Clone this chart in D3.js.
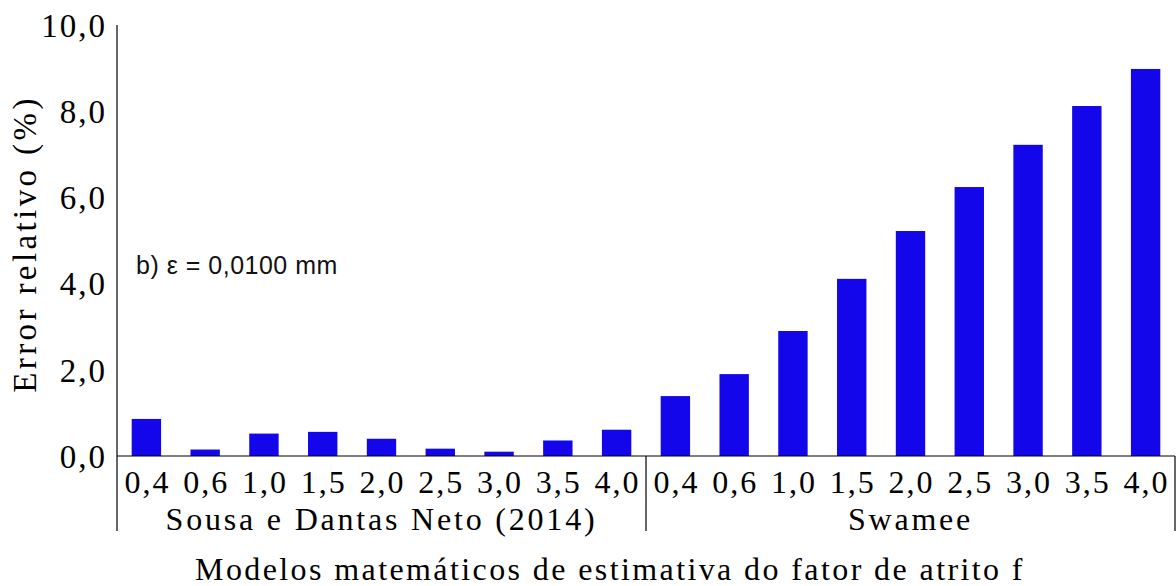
<!DOCTYPE html>
<html>
<head>
<meta charset="utf-8">
<script src="https://cdn.jsdelivr.net/npm/d3@7"></script>
<style>
  body { margin: 0; background: #fff; }
  svg { display: block; }
  .serif { font-family: "Liberation Serif", "Times New Roman", serif; fill: #000; }
</style>
</head>
<body>
<script>
// friction factor values (x categories) shared by both models
const fValues = ['0,4', '0,6', '1,0', '1,5', '2,0', '2,5', '3,0', '3,5', '4,0'];
const models = ['Sousa e Dantas Neto (2014)', 'Swamee'];
// relative error (%)
const sousaErr = [0.86, 0.15, 0.52, 0.56, 0.40, 0.17, 0.10, 0.36, 0.61];
const swameeErr = [1.39, 1.90, 2.90, 4.11, 5.22, 6.24, 7.22, 8.12, 8.98];
const yTicks = [0, 2, 4, 6, 8, 10];

const width = 1176, height = 586;
const margin = { top: 25, right: 1, bottom: 130, left: 117 };
const plotBottom = height - margin.bottom;

const rows = [];
models.forEach((m, gi) => {
  const vals = gi === 0 ? sousaErr : swameeErr;
  fValues.forEach((f, i) => rows.push({ key: m + '|' + f, model: m, f, value: vals[i] }));
});

const svg = d3.select('body').append('svg')
  .attr('width', width)
  .attr('height', height);

const x = d3.scaleBand()
  .domain(rows.map(d => d.key))
  .range([margin.left, width - margin.right])
  .paddingInner(0.5)
  .paddingOuter(0.25);

const y = d3.scaleLinear()
  .domain([0, 10])
  .range([plotBottom, margin.top]);

// bars
svg.append('g')
  .selectAll('rect')
  .data(rows)
  .enter()
  .append('rect')
  .attr('x', d => x(d.key))
  .attr('y', d => y(d.value))
  .attr('width', x.bandwidth())
  .attr('height', d => y(0) - y(d.value))
  .attr('fill', '#1306eb');

// y axis
const yAxis = svg.append('g')
  .attr('transform', `translate(${margin.left},0)`)
  .call(d3.axisLeft(y)
    .tickValues(yTicks)
    .tickSize(0)
    .tickPadding(10)
    .tickFormat(d => d3.format('.1f')(d).replace('.', ',')));
yAxis.select('.domain').remove();
yAxis.selectAll('text')
  .attr('class', 'serif')
  .attr('dy', '0.34em')
  .style('font-size', '33px')
  .style('letter-spacing', '2px');

// x axis: category labels
const xAxis = svg.append('g')
  .attr('transform', `translate(0,${plotBottom})`)
  .call(d3.axisBottom(x)
    .tickSize(0)
    .tickFormat(k => k.split('|')[1]));
xAxis.select('.domain').remove();
xAxis.selectAll('text')
  .attr('class', 'serif')
  .attr('y', 37)
  .attr('dy', 0)
  .attr('dx', 1)
  .style('font-size', '32px')
  .style('letter-spacing', '2px');

const step = x.step();
const groupEdge = gi => margin.left + gi * fValues.length * step;
const lineBottom = plotBottom + 75;

const axes = svg.append('g').attr('stroke', '#000').attr('stroke-width', 1.2);
// vertical y axis line running down through the category area
axes.append('line')
  .attr('x1', margin.left).attr('x2', margin.left)
  .attr('y1', y(10)).attr('y2', lineBottom);
// baseline
axes.append('line')
  .attr('x1', margin.left).attr('x2', groupEdge(models.length))
  .attr('y1', y(0)).attr('y2', y(0));
// group separators
d3.range(1, models.length + 1).forEach(gi => {
  axes.append('line')
    .attr('x1', groupEdge(gi)).attr('x2', groupEdge(gi))
    .attr('y1', y(0)).attr('y2', lineBottom);
});

// group labels
svg.append('g')
  .selectAll('text')
  .data(models)
  .enter()
  .append('text')
  .attr('class', 'serif')
  .attr('x', (d, i) => (groupEdge(i) + groupEdge(i + 1)) / 2)
  .attr('y', plotBottom + 74)
  .attr('text-anchor', 'middle')
  .style('font-size', '32px')
  .style('letter-spacing', '2.8px')
  .text(d => d);

// axis titles
svg.append('text')
  .attr('class', 'serif')
  .attr('x', 610)
  .attr('y', 580)
  .attr('text-anchor', 'middle')
  .style('font-size', '32px')
  .style('letter-spacing', '2.4px')
  .text('Modelos matemáticos de estimativa do fator de atrito f');

svg.append('text')
  .attr('class', 'serif')
  .attr('transform', `translate(36,244) rotate(-90)`)
  .attr('text-anchor', 'middle')
  .style('font-size', '33px')
  .style('letter-spacing', '3.4px')
  .text('Error relativo (%)');

// panel annotation
svg.append('text')
  .attr('x', 136)
  .attr('y', 274)
  .style('font-family', '"Liberation Sans", Arial, sans-serif')
  .style('font-size', '25px')
  .style('letter-spacing', '0.5px')
  .style('fill', '#111')
  .text('b) ε = 0,0100 mm');
</script>
</body>
</html>
